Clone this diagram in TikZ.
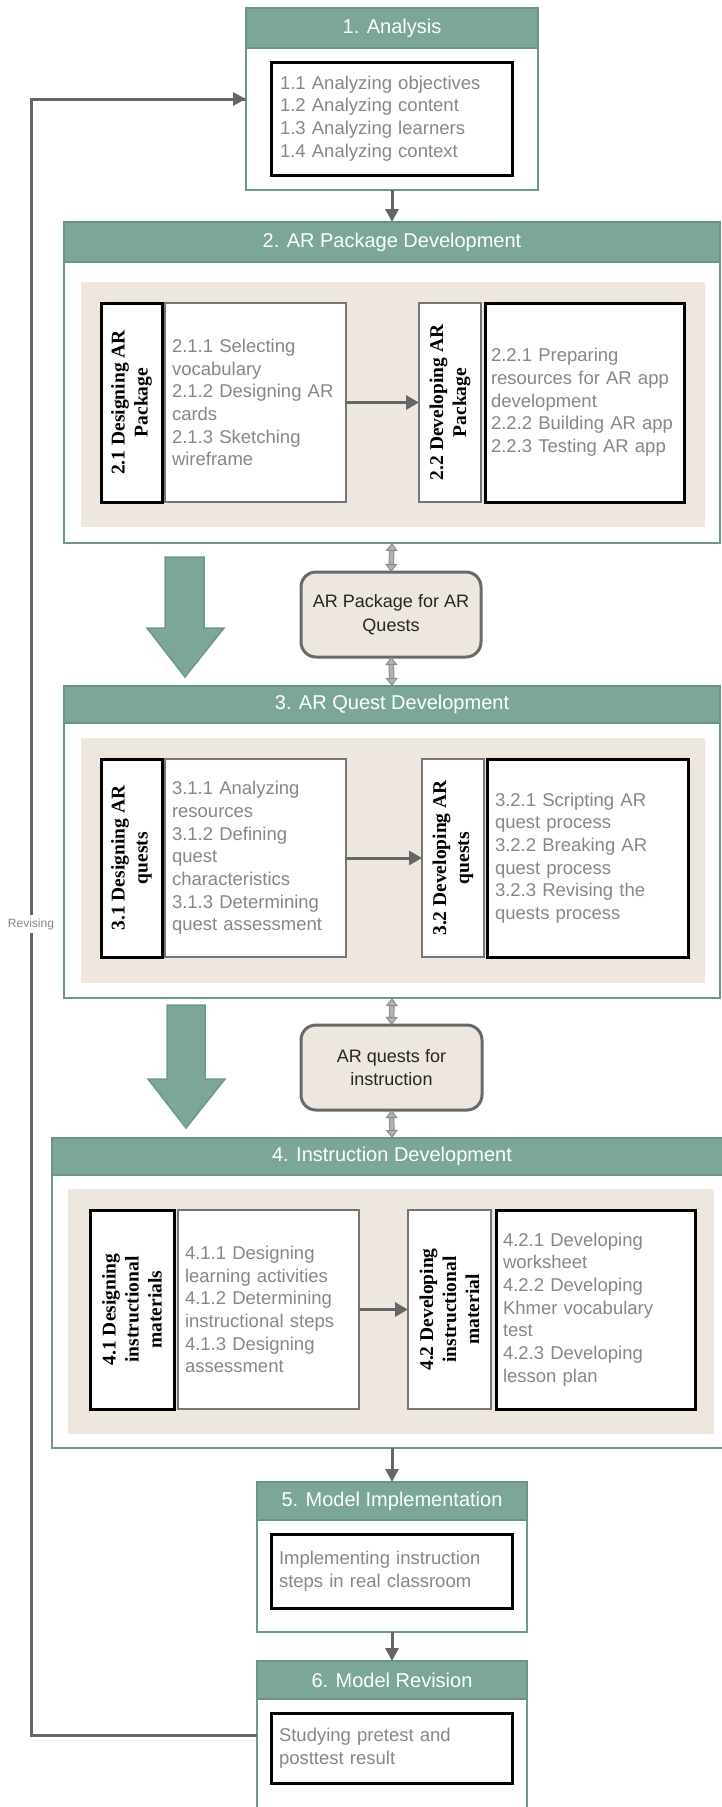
\documentclass[tikz,border=0pt]{standalone}
\usepackage{fontspec}
\setmainfont{Liberation Sans}
\newfontfamily\lblfont{Liberation Serif}
\usetikzlibrary{arrows.meta}
\definecolor{hdrfill}{RGB}{123,166,153}
\definecolor{hdrline}{RGB}{106,148,136}
\definecolor{framec}{RGB}{110,152,139}
\definecolor{beige}{RGB}{237,231,224}
\definecolor{gboxc}{RGB}{118,118,118}
\definecolor{txtg}{RGB}{135,135,135}
\definecolor{arrc}{RGB}{102,102,102}
\definecolor{dblfill}{RGB}{178,178,178}
\definecolor{dbledge}{RGB}{140,140,140}
\definecolor{pkgline}{RGB}{105,105,105}
\begin{document}
\begin{tikzpicture}[x=1pt,y=-1pt,
  every node/.style={inner sep=0pt, outer sep=0pt},
  frame/.style={draw=framec, line width=2.8pt, fill=white, anchor=north west},
  hdr/.style={draw=hdrline, line width=2pt, fill=hdrfill, text=white, anchor=north west,
    font=\fontsize{20}{24}\selectfont},
  panel/.style={fill=beige, anchor=north west},
  body/.style={text=txtg, align=left, font=\fontsize{18.5}{22.7}\selectfont},
  blk/.style={draw=black, line width=3pt, fill=white, anchor=north west},
  gbox/.style={draw=gboxc, line width=2.8pt, fill=white, anchor=north west},
  lbltxt/.style={rotate=90, align=center, text=black, font=\lblfont\bfseries\fontsize{19.5}{23}\selectfont},
  midtxt/.style={align=center, text=black!85, font=\fontsize{18}{23.5}\selectfont},
  outbox/.style={draw=pkgline, line width=3pt, fill=beige, rounded corners=15pt, anchor=north west},
  darr/.style={draw=arrc, line width=3pt, -{Triangle[length=13pt,width=13pt]}},
  harr/.style={draw=arrc, line width=3pt, -{Triangle[length=13pt,width=14pt]}},
  dblarr/.style={draw=dbledge, line width=1pt, double=dblfill, double distance=3.5pt,
    {Triangle[length=8pt,width=12pt,fill=dblfill]}-{Triangle[length=8pt,width=12pt,fill=dblfill]}},
  loopline/.style={draw=arrc, line width=3pt},
  bigarrow/.style={fill=hdrfill, draw=framec, line width=1.5pt},
]
\useasboundingbox (0,0) rectangle (722,1807);

\coordinate (r1) at (31,1735);

% ---------- 1. Analysis ----------
\node[frame, minimum width=292pt, minimum height=182pt] (A) at (246,8) {};
\node[hdr, minimum width=292pt, minimum height=40pt] (Ah) at (246,8) {1. Analysis};
\node[blk, body, minimum width=241pt, minimum height=113pt, text width=223pt, inner xsep=9pt] (Ai) at (271,62)
  {1.1 Analyzing objectives\\1.2 Analyzing content\\1.3 Analyzing learners\\1.4 Analyzing context};

% ---------- 2. AR Package Development ----------
\node[frame, minimum width=656pt, minimum height=321pt] (B) at (64,222) {};
\node[hdr, minimum width=656pt, minimum height=40pt] (Bh) at (64,222) {2. AR Package Development};
\node[panel, minimum width=624pt, minimum height=245pt] (Bp) at (81,282) {};
\node[blk, minimum width=61pt, minimum height=199pt] (L21) at (101,303) {};
\node[lbltxt] (L21t) at (L21.center) {2.1 Designing AR\\Package};
\node[gbox, body, minimum width=181pt, minimum height=199pt, text width=167pt, inner xsep=7pt] (C21) at (165,303)
  {2.1.1 Selecting\\vocabulary\\2.1.2 Designing AR\\cards\\2.1.3 Sketching\\wireframe};
\node[gbox, minimum width=62pt, minimum height=199pt] (L22) at (419,303) {};
\node[lbltxt] (L22t) at (L22.center) {2.2 Developing AR\\Package};
\node[blk, body, minimum width=199pt, minimum height=199pt, text width=187pt, inner xsep=6pt] (C22) at (485,303)
  {2.2.1 Preparing\\resources for AR app\\development\\2.2.2 Building AR app\\2.2.3 Testing AR app};
\draw[harr] (C21.east) -- (L22.west);

% ---------- AR Package box ----------
\node[outbox, midtxt, minimum width=180pt, minimum height=85pt] (P) at (301,572) {AR Package for AR\\Quests};
\draw[dblarr] (B.south) -- (P.north);

% ---------- 3. AR Quest Development ----------
\node[frame, minimum width=656pt, minimum height=312pt] (Q) at (64,686) {};
\node[hdr, minimum width=656pt, minimum height=37pt] (Qh) at (64,686) {3. AR Quest Development};
\node[panel, minimum width=624pt, minimum height=245pt] (Qp) at (81,738) {};
\node[blk, minimum width=61pt, minimum height=198pt] (L31) at (101,759) {};
\node[lbltxt] (L31t) at (L31.center) {3.1 Designing AR\\quests};
\node[gbox, body, minimum width=181pt, minimum height=198pt, text width=167pt, inner xsep=7pt] (C31) at (165,759)
  {3.1.1 Analyzing\\resources\\3.1.2 Defining\\quest\\characteristics\\3.1.3 Determining\\quest assessment};
\node[gbox, minimum width=62pt, minimum height=198pt] (L32) at (422,759) {};
\node[lbltxt] (L32t) at (L32.center) {3.2 Developing AR\\quests};
\node[blk, body, minimum width=201pt, minimum height=198pt, text width=185pt, inner xsep=8pt] (C32) at (487,759)
  {3.2.1 Scripting AR\\quest process\\3.2.2 Breaking AR\\quest process\\3.2.3 Revising the\\quests process};
\draw[harr] (C31.east) -- (L32.west);
\draw[dblarr] (P.south) -- (Q.north);

% ---------- AR quests box ----------
\node[outbox, midtxt, minimum width=181pt, minimum height=85pt] (R) at (301,1025) {AR quests for\\instruction};
\draw[dblarr] (Q.south) -- (R.north);

% ---------- 4. Instruction Development ----------
\node[frame, minimum width=680pt, minimum height=310pt] (I) at (52,1138) {};
\node[hdr, minimum width=680pt, minimum height=37pt] (Ih) at (52,1138) {4. Instruction Development};
\node[panel, minimum width=646pt, minimum height=245pt] (Ip) at (68,1189) {};
\node[blk, minimum width=84pt, minimum height=199pt] (L41) at (90,1210) {};
\node[lbltxt] (L41t) at (L41.center) {4.1 Designing\\instructional\\materials};
\node[gbox, body, minimum width=181pt, minimum height=199pt, text width=167pt, inner xsep=7pt] (C41) at (178,1210)
  {4.1.1 Designing\\learning activities\\4.1.2 Determining\\instructional steps\\4.1.3 Designing\\assessment};
\node[gbox, minimum width=83pt, minimum height=199pt] (L42) at (408,1210) {};
\node[lbltxt] (L42t) at (L42.center) {4.2 Developing\\instructional\\material};
\node[blk, body, minimum width=199pt, minimum height=199pt, text width=185pt, inner xsep=7pt] (C42) at (496,1210)
  {4.2.1 Developing\\worksheet\\4.2.2 Developing\\Khmer vocabulary\\test\\4.2.3 Developing\\lesson plan};
\draw[harr] (C41.east) -- (L42.west);
\draw[dblarr] (R.south) -- (I.north);

% ---------- 5. Model Implementation ----------
\node[frame, minimum width=270pt, minimum height=150pt] (M) at (257,1482) {};
\node[hdr, minimum width=270pt, minimum height=38pt] (Mh) at (257,1482) {5. Model Implementation};
\node[blk, body, minimum width=241pt, minimum height=74pt, text width=225pt, inner xsep=8pt] (Mi) at (271,1534)
  {Implementing instruction\\steps in real classroom};

% ---------- 6. Model Revision ----------
\node[frame, minimum width=270pt, minimum height=170pt] (V) at (257,1661) {};
\node[hdr, minimum width=270pt, minimum height=38pt] (Vh) at (257,1661) {6. Model Revision};
\node[blk, body, minimum width=241pt, minimum height=70pt, text width=225pt, inner xsep=8pt] (Vi) at (271,1713)
  {Studying pretest and\\posttest result};

% ---------- Flow arrows ----------
\draw[darr] (A.south) -- (B.north);
\draw[darr] (I.south -| M.north) -- (M.north);
\draw[darr] (M.south) -- (V.north);

% ---------- Big green arrows ----------
\path[bigarrow] (165,557) -- (204,557) -- (204,628) -- (224,628) -- (185,677) -- (147,628) -- (165,628) -- cycle;
\path[bigarrow] (167,1005) -- (205,1005) -- (205,1079) -- (225,1079) -- (186,1128) -- (148,1079) -- (167,1079) -- cycle;

% ---------- Revising loop ----------
\draw[loopline] (V.west |- r1) -- (r1) |- (A.west);
\draw[darr] ([xshift=-16pt]A.west) -- (A.west);
\node[fill=white, text=txtg, font=\fontsize{12}{14}\selectfont, inner xsep=1pt, inner ysep=3pt] (rev) at (31,924) {Revising};
\end{tikzpicture}
\end{document}
